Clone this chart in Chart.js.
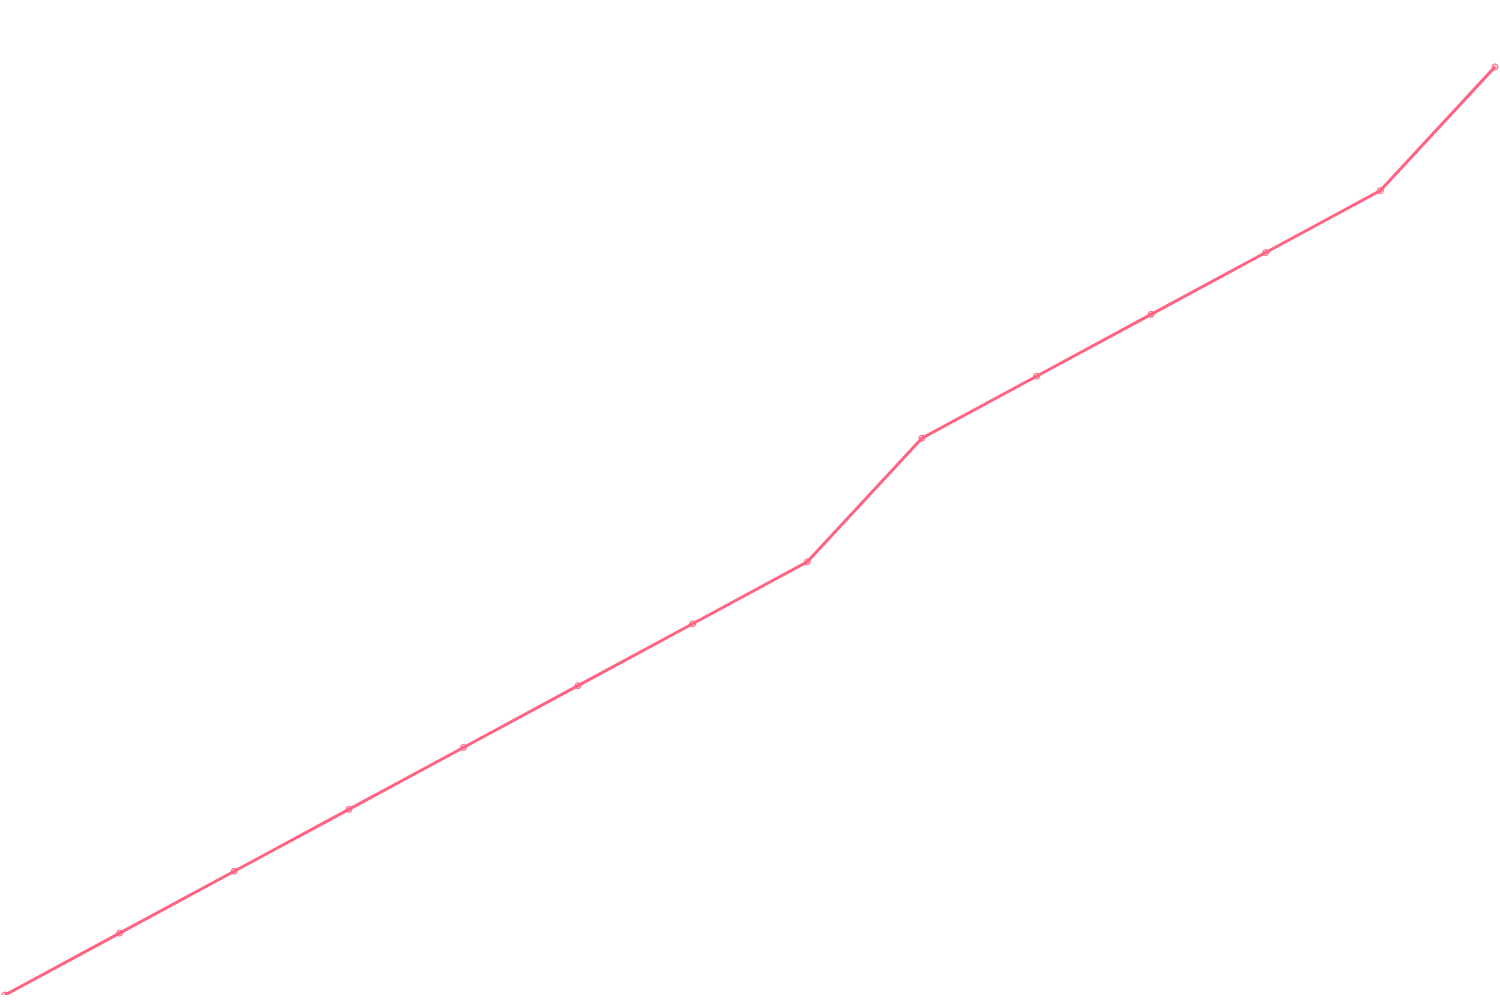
<!DOCTYPE html>
<html>
<head>
<meta charset="utf-8">
<title>Line</title>
<script src="https://cdn.jsdelivr.net/npm/chart.js@4"></script>
<style>
  html, body { margin: 0; padding: 0; background: #fff; }
  #wrap { width: 1500px; height: 1000px; }
</style>
</head>
<body>
<div id="wrap"><canvas id="line-chart"></canvas></div>
<script>
// 값 데이터
const labels = ['1', '2', '3', '4', '5', '6', '7', '8', '9', '10', '11', '12', '13', '14'];
const values = [0, 1, 2, 3, 4, 5, 6, 7, 9, 10, 11, 12, 13, 15];

document.addEventListener('DOMContentLoaded', function() {
    const ctx = document.getElementById('line-chart').getContext('2d');
    new Chart(ctx, {
        type: 'line',
        data: {
            labels: labels,
            datasets: [{
                data: values,
                borderColor: 'rgb(255, 99, 132)',
                backgroundColor: 'rgba(255, 99, 132, 0.5)',
                pointBackgroundColor: 'rgba(255, 99, 132, 0.35)',
                borderWidth: 3,
                pointRadius: 3,
                pointBorderWidth: 1,
                fill: false,
                tension: 0
            }]
        },
        options: {
            responsive: true,
            maintainAspectRatio: false,
            animation: false,
            layout: { autoPadding: false, padding: 5 },
            plugins: {
                legend: { display: false },
                tooltip: { enabled: false }
            },
            scales: {
                x: { display: false },
                y: { display: false, min: 0, max: 16 }
            }
        }
    });
});
</script>
</body>
</html>
